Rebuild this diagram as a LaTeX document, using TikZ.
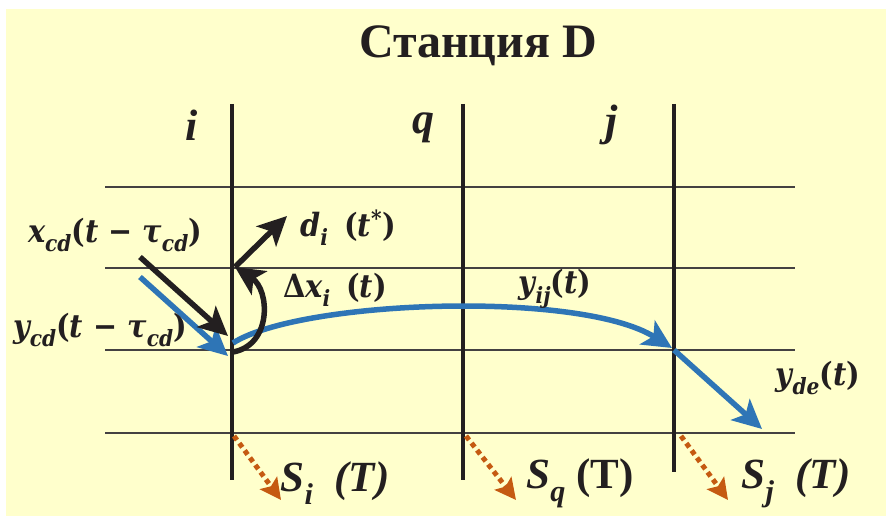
\documentclass[tikz,border=0pt]{standalone}
\usepackage{fontspec}
\usepackage{tikz}
\usetikzlibrary{arrows.meta,positioning,calc}
\newfontfamily\serifrm{Liberation Serif}
\newfontfamily\formulafont{DejaVu Serif Condensed}
\definecolor{paper}{HTML}{FFFFCC}
\definecolor{flowblue}{HTML}{2E75B6}
\definecolor{lossorange}{HTML}{C55A11}
\definecolor{ink}{HTML}{231F20}
\newcommand{\lowsub}[1]{\raisebox{-0.3em}{\scalebox{0.7}{#1}}}
\newcommand{\up}[1]{{\upshape #1}}

\begin{document}
\begin{tikzpicture}[x=1pt, y=-1pt,
    track/.style={line width=4pt, draw=ink},
    level/.style={line width=1.2pt, draw=ink!85},
    flow/.style={-{Stealth[length=29pt, width=28pt, inset=7pt]}, line width=5.5pt, draw=flowblue},
    push/.style={-{Stealth[length=29pt, width=28pt, inset=7pt]}, line width=5.5pt, draw=ink},
    loss/.style={-{Stealth[length=21pt, width=21pt, inset=4pt]}, line width=5pt, draw=lossorange, dash pattern=on 5pt off 4pt},
    mathlbl/.style={inner sep=0pt, font=\fontsize{32}{36}\selectfont\formulafont\bfseries\itshape, text=ink},
    stationlbl/.style={inner sep=0pt, font=\fontsize{44}{48}\selectfont\serifrm\bfseries\itshape, text=ink},
    slbl/.style={inner sep=0pt, font=\fontsize{43}{46}\selectfont\serifrm\bfseries\itshape, text=ink},
]
% Frame
\useasboundingbox (0,0) rectangle (886,518);
\fill[paper] (6,9) rectangle (886,516);

% Title
\node[inner sep=0pt, font=\fontsize{48}{52}\selectfont\serifrm\bfseries, text=ink] (title) at (478,46) {Станция D};

% Levels
\foreach \y in {187,268,350,433}
  \draw[level] (105,\y) -- (795,\y);

% Tracks
\coordinate (iTop) at (232,104);
\coordinate (iBot) at (232,480);
\coordinate (qTop) at (463,104);
\coordinate (qBot) at (463,480);
\coordinate (jTop) at (674,104);
\coordinate (jBot) at (674,472);
\draw[track] (iTop) -- (iBot);
\draw[track] (qTop) -- (qBot);
\draw[track] (jTop) -- (jBot);
\node[stationlbl] (st-i) at (192,125) {i};
\node[stationlbl] (st-q) at (423,128) {q};
\node[stationlbl] (st-j) at (612,125) {j};

% Flows
\coordinate (ycdStart) at (140,277);
\coordinate (ycdEnd) at (228,356);
\coordinate (iOut) at (233,343);
\coordinate (jIn) at (672,348);
\coordinate (jOut) at (674,350);
\coordinate (deEnd) at (762,429);
\draw[flow] (ycdStart) -- (ycdEnd);
\draw[flow] (iOut) .. controls (300,300) and (580,290) .. (jIn);
\draw[flow] (jOut) -- (deEnd);

% Inflow, stock, demand
\coordinate (xcdStart) at (140,257);
\coordinate (xcdEnd) at (228,336);
\coordinate (iLow) at (233,352);
\coordinate (iHigh) at (235,267);
\coordinate (dEnd) at (287,216);
\draw[push] (xcdStart) -- (xcdEnd);
\draw[push] (iLow) .. controls (272,345) and (270,290) .. (iHigh);
\draw[push] (iHigh) -- (dEnd);

% Storage
\coordinate (siStart) at (234,436);
\coordinate (siEnd) at (281,500);
\coordinate (sqStart) at (466,436);
\coordinate (sqEnd) at (516,500);
\coordinate (sjStart) at (681,436);
\coordinate (sjEnd) at (728,500);
\draw[loss] (siStart) -- (siEnd);
\draw[loss] (sqStart) -- (sqEnd);
\draw[loss] (sjStart) -- (sjEnd);

% Labels
\node[mathlbl] (xcd) at (115,235) {x\lowsub{cd}\up{(}t \up{−} τ\lowsub{cd}\up{)}};
\node[mathlbl] (ycd) at (100,330) {y\lowsub{cd}\up{(}t \up{−} τ\lowsub{cd}\up{)}};
\node[mathlbl] (di) at (348,228) {d\lowsub{i}\enspace\up{(}t\textsuperscript{\up{*}}\up{)}};
\node[mathlbl] (dxi) at (335,290) {\up{Δ}x\lowsub{i}\enspace\up{(}t\up{)}};
\node[mathlbl] (yij) at (555,289) {y\lowsub{ij}\up{(}t\up{)}};
\node[mathlbl] (yde) at (818,378) {y\lowsub{de}\up{(}t\up{)}};
\node[slbl] (si) at (335,483) {S\lowsub{i}\enspace(T)};
\node[slbl] (sq) at (580,483) {S\lowsub{q}\ \up{(T)}};
\node[slbl] (sj) at (796,483) {S\lowsub{j}\enspace(T)};
\end{tikzpicture}
\end{document}
